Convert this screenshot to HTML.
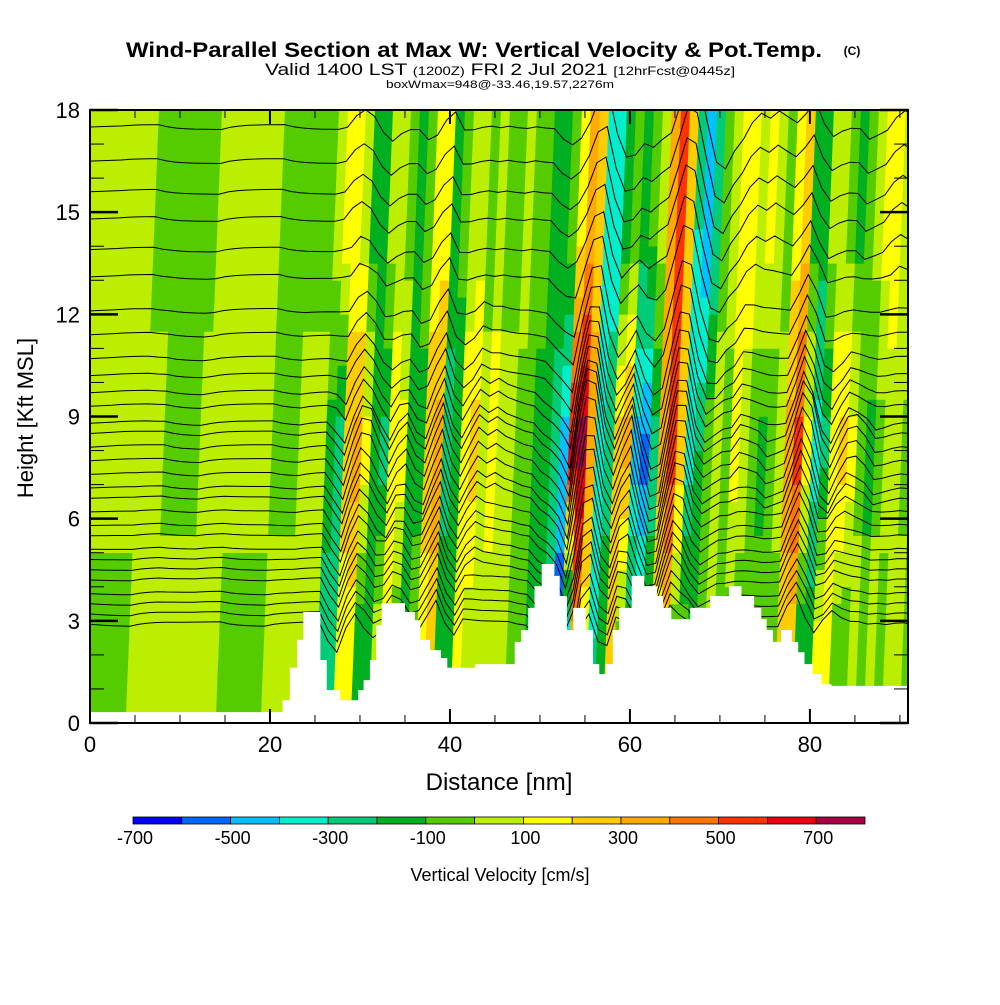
<!DOCTYPE html>
<html><head><meta charset="utf-8"><style>
html,body{margin:0;padding:0;background:#fff;}
svg text{font-family:"Liberation Sans",sans-serif;}
</style></head><body>
<svg id="chart" width="1000" height="1000" viewBox="0 0 1000 1000" xmlns="http://www.w3.org/2000/svg">
<defs><clipPath id="plotclip"><rect x="90" y="110" width="818" height="613"/></clipPath></defs>
<text x="126" y="57" font-size="21" font-weight="bold" textLength="696" lengthAdjust="spacingAndGlyphs">Wind-Parallel Section at Max W: Vertical Velocity &amp; Pot.Temp.</text>
<text x="852" y="55" font-size="12" font-weight="bold" text-anchor="middle">(C)</text>
<text x="265" y="75" font-size="17" textLength="470" lengthAdjust="spacingAndGlyphs">Valid 1400 LST <tspan font-size="12">(1200Z)</tspan> FRI 2 Jul 2021 <tspan font-size="12">[12hrFcst@0445z]</tspan></text>
<text x="386" y="88" font-size="11" textLength="228" lengthAdjust="spacingAndGlyphs">boxWmax=948@-33.46,19.57,2276m</text>
<g id="field" clip-path="url(#plotclip)"></g>
<g id="contours" clip-path="url(#plotclip)"></g>
<g id="terrain" clip-path="url(#plotclip)"></g>
<rect x="90" y="110" width="818" height="613" fill="none" stroke="#000" stroke-width="2"/>
<g id="axes"></g>
<text transform="translate(33,418) rotate(-90)" text-anchor="middle" font-size="22">Height [Kft MSL]</text>
<text x="499" y="790" text-anchor="middle" font-size="24">Distance [nm]</text>
<g id="colorbar"></g>
<text x="500" y="881" text-anchor="middle" font-size="18">Vertical Velocity [cm/s]</text>
</svg>
<script>
// ---- data ----
const levelEdges=[-700,-600,-500,-400,-300,-200,-100,0,100,200,300,400,500,600,700,800];
const levelColors=["#0000ff","#0066ff","#00c0ff","#00eecc","#00cc77","#00b020","#55cc00","#bbee00","#ffff00","#ffcc00","#ffaa00","#ff7700","#ff3300","#ee0011","#aa0044"];
const cbLabels=[-700,-500,-300,-100,100,300,500,700];
const xTicks=[0,20,40,60,80];
const yTicks=[0,3,6,9,12,15,18];
// representative heights (kft) of the low, mid, high velocity profiles
const layerCenters=[2.5,8,14.5];
const wHigh=[50,50,50,50,50,-50,-50,-50,-50,-50,-50,-50,50,50,50,50,50,50,50,-50,-50,-50,-50,-50,-50,
50,150,150,50,-150,-150,50,50,-50,-150,-50,150,150,-150,-50,50,50,-50,50,-50,-50,50,-50,-50,-150,-150,-50,
150,350,250,-350,-350,-150,-50,-150,-50,50,350,550,250,-300,-500,-300,-50,50,150,150,50,150,50,-50,150,250,-150,-150,50,50,-50,-150,-50,50,150,150,50,150,150];
const wMid=[50,50,50,50,50,50,50,-50,-50,-50,-50,50,50,50,50,50,50,50,50,-50,-50,-50,50,50,50,
-150,-250,250,350,150,-150,-250,150,150,-200,-150,250,350,-250,-200,150,250,50,150,50,50,-50,-50,-150,-150,-250,-450,
650,750,350,-350,-250,250,350,-450,-550,-250,350,550,250,-350,-200,-50,50,-50,150,50,-50,-150,-50,50,350,550,150,-350,-250,150,250,150,-50,-150,-50,50,50,-50,-50];
const wLow=[-50,-50,-50,-50,50,50,50,50,50,50,50,50,50,50,-50,-50,-50,-50,-50,50,50,50,50,50,50,
-250,-250,150,150,-150,-150,50,150,-50,-150,-50,150,250,-150,-150,150,50,50,50,50,50,-50,-50,-150,-150,-250,-550,-450,350,150,-300,-150,250,-50,-150,-250,-150,150,250,-50,-50,-150,-50,50,-50,-50,-50,-50,-50,-50,-50,250,250,-150,-150,150,150,-50,-50,50,-50,50,-50,50,50,-50];
// theta contour heights at left edge (kft)
const thetaLevels=[17.5,16.5,15.6,14.8,13.9,13.1,12.1,11.4,10.7,10.2,9.7,9.3,8.8,8.5,8.1,7.7,7.3,6.9,6.6,6.2,5.8,5.5,5.1,4.8,4.5,4.2,3.8,3.5,3.2,2.9];
// terrain step profile: [startNm, endNm, heightKft]
const terrain=[[0,21.4,0.32],[21.4,22.2,0.67],[22.2,23,1.62],[23,23.7,2.44],[23.7,25.6,3.26],[25.6,26.3,1.85],[26.3,27.8,0.97],[27.8,29.8,0.67],[29.8,30.4,0.97],[30.4,31.1,1.26],[31.1,31.8,1.85],[31.8,32.4,2.87],[32.4,35,3.52],[35,36.1,3.26],[36.1,36.7,3.02],[36.7,37.8,2.44],[37.8,39,2.14],[39,39.7,1.91],[39.7,42.8,1.62],[42.8,47.2,1.73],[47.2,47.9,2.38],[47.9,48.7,2.73],[48.7,49.4,3.38],[49.4,50.2,4.02],[50.2,51.6,4.67],[51.6,52.2,4.32],[52.2,53,3.73],[53,53.7,2.73],[53.7,55.1,3.38],[55.1,55.9,2.73],[55.9,56.6,1.73],[56.6,57.3,1.44],[57.3,58.1,1.73],[58.1,58.8,2.73],[58.8,60.2,3.38],[60.2,61.6,4.32],[61.6,63,4.02],[63,63.7,3.73],[63.7,64.6,3.38],[64.6,66.7,3.05],[66.7,68.9,3.38],[68.9,71,3.73],[71,72.4,4.02],[72.4,73.8,3.73],[73.8,74.6,3.38],[74.6,75.2,3.05],[75.2,75.9,2.73],[75.9,76.8,2.38],[76.8,78,2.73],[78,78.7,2.38],[78.7,79.4,2.08],[79.4,80.3,1.73],[80.3,81.3,1.44],[81.3,82.4,1.14],[82.4,91,1.09]];

// ---- axis functions ----
const X0=90,X1=908,Y0=723,Y1=110,XMAX=90.9,YMAX=18;
const sx=v=>X0+(v/XMAX)*(X1-X0);
const sy=v=>Y0-(v/YMAX)*(Y0-Y1);
const slant=0.15; // nm shift per kft
function colorFor(w){for(let i=0;i<levelColors.length;i++){if(w<levelEdges[i+1])return levelColors[i];}return levelColors[levelColors.length-1];}
const NS="http://www.w3.org/2000/svg";
function mk(tag,attrs,parent){const e=document.createElementNS(NS,tag);for(const k in attrs)e.setAttribute(k,attrs[k]);parent.appendChild(e);return e;}
const layers=[wLow,wMid,wHigh];
function wAt(i,h){
  i=Math.max(0,Math.min(wMid.length-1,i));
  if(h<=layerCenters[0])return wLow[i];
  if(h>=layerCenters[2])return wHigh[i];
  const k=h<layerCenters[1]?0:1;
  const t=(h-layerCenters[k])/(layerCenters[k+1]-layerCenters[k]);
  return layers[k][i]*(1-t)+layers[k+1][i]*t;
}

// ---- field ----
const field=document.getElementById('field');
mk('rect',{x:X0,y:Y1,width:X1-X0,height:Y0-Y1,fill:colorFor(50)},field);
const dh=0.5;
for(let h0=0;h0<YMAX;h0+=dh){
  const h1=h0+dh,hm=h0+dh/2;
  for(let i=-4;i<wMid.length;i++){
    const w=wAt(i,hm);
    const c=colorFor(w);
    const pts=[[sx(i+slant*h0),sy(h0)],[sx(i+1+slant*h0),sy(h0)],[sx(i+1+slant*h1),sy(h1)],[sx(i+slant*h1),sy(h1)]];
    const p=mk('polygon',{points:pts.map(q=>q[0].toFixed(1)+','+q[1].toFixed(1)).join(' '),fill:c,stroke:c,'stroke-width':0.6},field);
    
    
  }
}

// ---- theta contours ----
const cg=document.getElementById('contours');
thetaLevels.forEach(h=>{
  const pts=[sx(0).toFixed(1)+','+sy(h).toFixed(1)];
  let d=0;
  for(let i=0;i<wMid.length;i++){
    const w=wAt(i,h);
    d=0.55*d+(Math.abs(w)>120?w:w*0.3)*0.0022;
    pts.push(sx(i+1+slant*h).toFixed(1)+','+sy(h+d).toFixed(1));
  }
  const l=mk('polyline',{points:pts.join(' '),fill:'none',stroke:'#000','stroke-width':1},cg);
  
  
});

// ---- terrain ----
const tg=document.getElementById('terrain');
let tp=[[sx(0),sy(0)]];
terrain.forEach(s=>{tp.push([sx(s[0]),sy(s[2])]);tp.push([sx(s[1]),sy(s[2])]);});
tp.push([sx(XMAX),sy(terrain[terrain.length-1][2])]);tp.push([sx(XMAX),sy(0)]);
const terr=mk('polygon',{points:tp.map(q=>q[0].toFixed(1)+','+q[1].toFixed(1)).join(' '),fill:'#fff',stroke:'none'},tg);



// ---- axes ----
const ag=document.getElementById('axes');
for(let v=0;v<=90;v+=5){
  const major=v%20===0, len=major?14:8, x=sx(v);
  mk('line',{x1:x,y1:Y0,x2:x,y2:Y0-len,stroke:'#000','stroke-width':major?2:1},ag);
  mk('line',{x1:x,y1:Y1,x2:x,y2:Y1+len,stroke:'#000','stroke-width':major?2:1},ag);
}
xTicks.forEach(v=>{const t=mk('text',{x:sx(v),y:752,'text-anchor':'middle','font-size':22},ag);t.textContent=v;
  });
for(let v=0;v<=18;v++){
  const major=v%3===0,len=major?28:14,y=sy(v);
  mk('line',{x1:X0,y1:y,x2:X0+len,y2:y,stroke:'#000','stroke-width':major?2.5:1},ag);
  mk('line',{x1:X1,y1:y,x2:X1-len,y2:y,stroke:'#000','stroke-width':major?2.5:1},ag);
}
yTicks.forEach(v=>{const t=mk('text',{x:80,y:sy(v)+8,'text-anchor':'end','font-size':22},ag);t.textContent=v;
  });

// ---- colorbar ----
const cb=document.getElementById('colorbar');
const CB0=133,CB1=865,cw=(CB1-CB0)/levelColors.length;
const cbx=v=>CB0+(v-levelEdges[0])/(levelEdges[levelEdges.length-1]-levelEdges[0])*(CB1-CB0);
levelColors.forEach((c,i)=>{const r=mk('rect',{x:cbx(levelEdges[i]),y:817,width:cw,height:7,fill:c,stroke:'#000','stroke-width':0.8},cb);
  });
cbLabels.forEach(v=>{const t=mk('text',{x:cbx(v)+2,y:844,'text-anchor':'middle','font-size':18},cb);t.textContent=v;
  });
</script>
</body></html>
